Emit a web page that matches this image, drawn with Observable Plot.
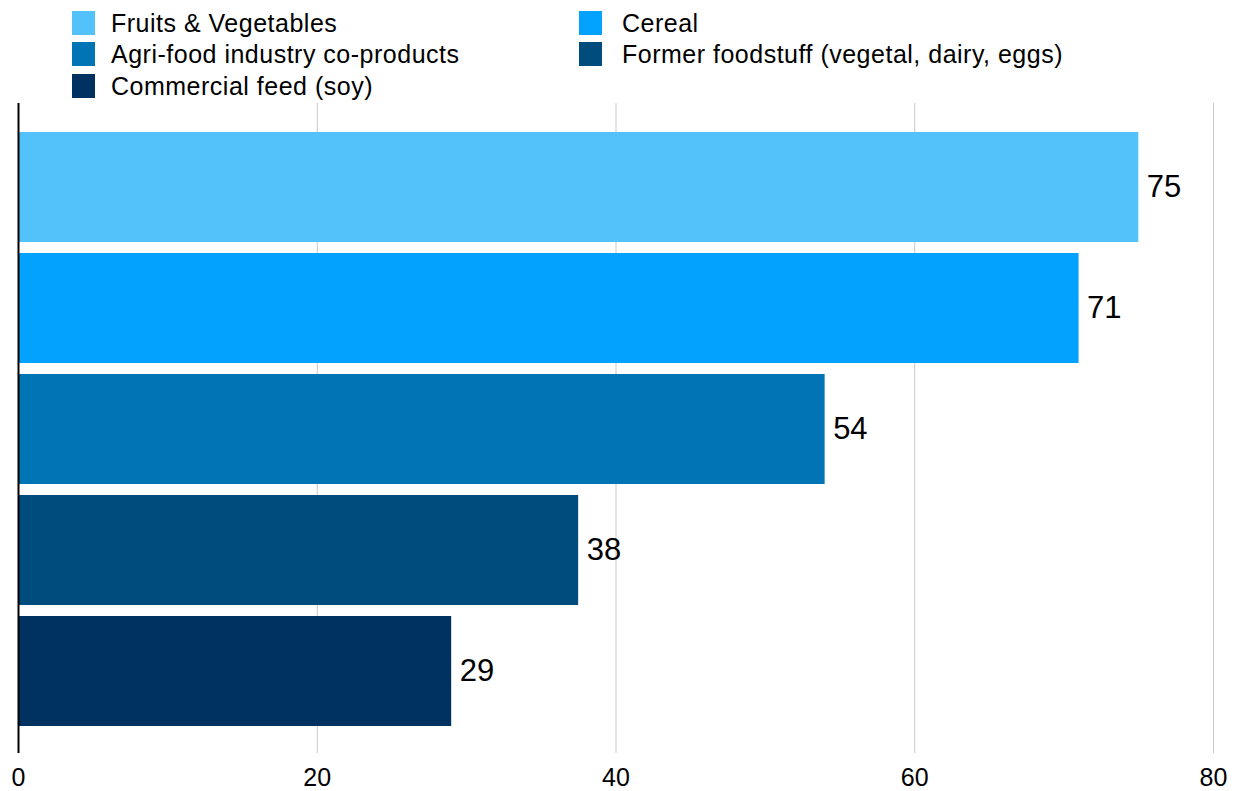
<!DOCTYPE html>
<html>
<head>
<meta charset="utf-8">
<script src="https://cdn.jsdelivr.net/npm/d3@7"></script>
<script src="https://cdn.jsdelivr.net/npm/@observablehq/plot@0.6"></script>
<style>
  html, body { margin: 0; padding: 0; background: #fff; }
  body { width: 1240px; height: 791px; position: relative; overflow: hidden; font-family: "Liberation Sans", Arial, Helvetica, sans-serif; }
  #legend { position: absolute; left: 0; top: 0; width: 1240px; height: 100px; }
  .item { position: absolute; display: flex; align-items: center; height: 24px; font-size: 25px; letter-spacing: 0.5px; color: #000; white-space: nowrap; }
  .sw { width: 23px; height: 24px; margin-right: 16px; flex: none; }
  #chart { position: absolute; left: 0; top: 100px; }
</style>
</head>
<body>
<div id="legend"></div>
<div id="chart"></div>
<script>
const categories = [
  "Fruits & Vegetables",
  "Cereal",
  "Agri-food industry co-products",
  "Former foodstuff (vegetal, dairy, eggs)",
  "Commercial feed (soy)"
];
const values = [75, 71, 54, 37.5, 29];
const valueLabels = ["75", "71", "54", "38", "29"];
const colors = ["#53c2fb", "#02a2fe", "#0074b4", "#004c7d", "#003261"];
const xTicks = [0, 20, 40, 60, 80];

const data = categories.map((c, i) => ({category: c, value: values[i], label: valueLabels[i], color: colors[i]}));

// Legend (two columns, filled row by row)
const legend = document.getElementById("legend");
const colX = [72, 579];
const rowY = [11, 42, 74];
categories.forEach((c, i) => {
  const el = document.createElement("div");
  el.className = "item";
  el.style.left = colX[i % 2] + "px";
  el.style.top = rowY[Math.floor(i / 2)] + "px";
  const sw = document.createElement("span");
  sw.className = "sw";
  sw.style.background = colors[i];
  if (i % 2 === 1) sw.style.marginRight = "20px";
  const tx = document.createElement("span");
  tx.textContent = c;
  el.appendChild(sw);
  el.appendChild(tx);
  legend.appendChild(el);
});

const chart = Plot.plot({
  width: 1240,
  height: 691,
  marginTop: 3,
  marginBottom: 46,
  marginLeft: 18,
  marginRight: 27,
  style: {fontFamily: "'Liberation Sans', Arial, Helvetica, sans-serif", background: "white", overflow: "visible"},
  x: {domain: [0, 80], axis: null, label: null},
  y: {domain: categories, range: [31, 627], paddingInner: 0.095, paddingOuter: 0, axis: null},
  color: {type: "identity"},
  marks: [
    Plot.ruleX(xTicks.slice(1), {stroke: "#c9c9c9", strokeWidth: 1, insetBottom: -8}),
    Plot.barX(data, {x: "value", y: "category", fill: "color"}),
    Plot.ruleX([0], {stroke: "#000", strokeWidth: 2, insetBottom: -8}),
    Plot.text(data, {x: "value", y: "category", text: "label", dx: 8, textAnchor: "start", fontSize: 31, fill: "#000"}),
    Plot.axisX({ticks: xTicks, tickSize: 0, tickPadding: 23, fontSize: 25, anchor: "bottom", label: null, tickFormat: d => String(d), fill: "#000"})
  ]
});
document.getElementById("chart").appendChild(chart);
</script>
</body>
</html>
